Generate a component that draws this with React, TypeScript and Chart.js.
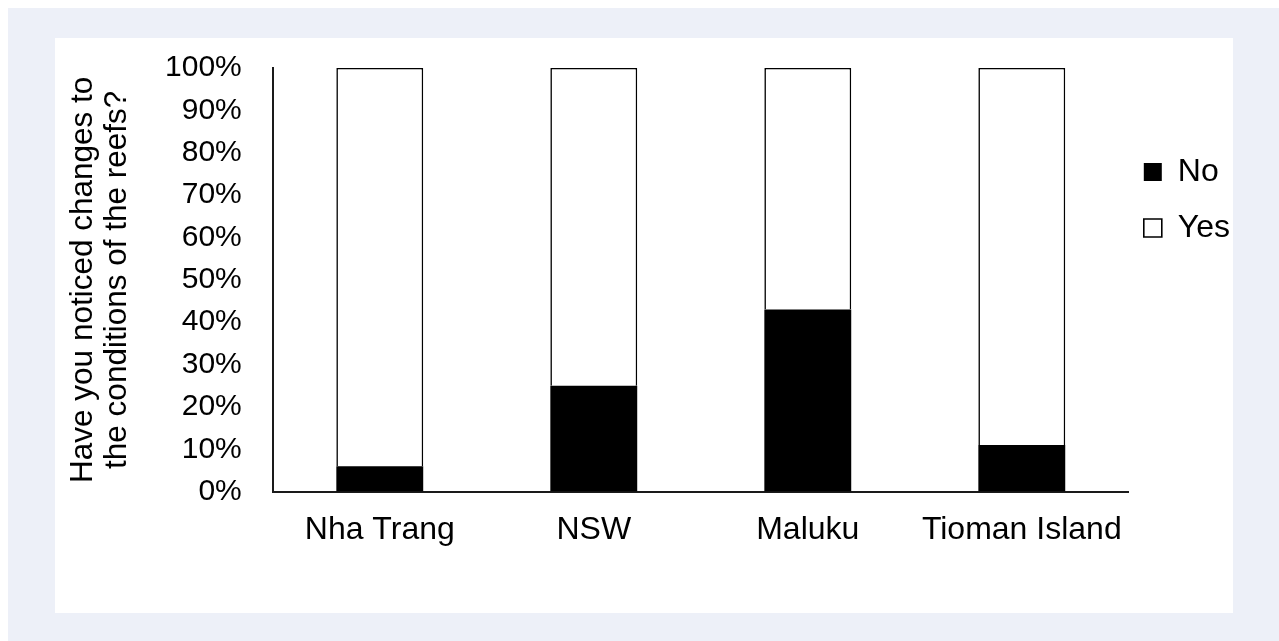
import React, { useEffect, useRef } from "react";
import { Chart, registerables } from "chart.js";

Chart.register(...registerables);

const categories = ["Nha Trang", "NSW", "Maluku", "Tioman Island"];
const noValues = [6, 25, 43, 11];
const yesValues = [94, 75, 57, 89];
const seriesNames = ["No", "Yes"];
const yTitle = ["Have you noticed changes to", "the conditions of the reefs?"];

const FONT = '"Liberation Sans", Arial, sans-serif';

export default function App() {
  const ref = useRef<HTMLCanvasElement | null>(null);

  useEffect(() => {
    if (!ref.current) return;
    const chart = new Chart(ref.current, {
      type: "bar",
      data: {
        labels: categories,
        datasets: [
          {
            label: seriesNames[0],
            data: noValues,
            backgroundColor: "#000000",
            borderColor: "#000000",
            borderWidth: 0,
            categoryPercentage: 1,
            barPercentage: 0.406,
          },
          {
            label: seriesNames[1],
            data: yesValues,
            backgroundColor: "#ffffff",
            borderColor: "#000000",
            borderWidth: 1.6,
            categoryPercentage: 1,
            barPercentage: 0.406,
          },
        ],
      },
      options: {
        responsive: false,
        animation: false,
        layout: { padding: { left: 11, top: 12, right: 15, bottom: 26 } },
        plugins: {
          tooltip: { enabled: false },
          legend: {
            position: "right",
            align: "start",
            title: {
              display: true,
              text: "",
              font: { size: 10, lineHeight: 1 },
              padding: { top: 100, bottom: 0 },
            },
            labels: {
              boxWidth: 18,
              boxHeight: 18,
              padding: 15,
              color: "#000000",
              font: { family: FONT, size: 32, lineHeight: 1.28 },
              generateLabels: (c: any) => {
                const items = (Chart as any).defaults.plugins.legend.labels.generateLabels(c);
                return items.map((it: any) => ({ ...it, text: [it.text] }));
              },
            },
          },
        },
        scales: {
          x: {
            stacked: true,
            grid: { display: false, drawTicks: false },
            border: { display: true, color: "#1a1a1a", width: 2 },
            ticks: {
              color: "#000000",
              padding: 19,
              font: { family: FONT, size: 32 },
              maxRotation: 0,
              autoSkip: false,
            },
          },
          y: {
            stacked: true,
            min: 0,
            max: 100,
            grid: { display: false, drawTicks: false },
            border: { display: true, color: "#1a1a1a", width: 2 },
            ticks: {
              stepSize: 10,
              autoSkip: false,
              color: "#000000",
              padding: 31,
              font: { family: FONT, size: 30 },
              callback: (v: any) => v + "%",
            },
            title: {
              display: true,
              text: yTitle,
              color: "#000000",
              font: { family: FONT, size: 31.5, lineHeight: 1.08 },
              padding: { top: 0, bottom: 0 },
            },
          },
        },
      },
    });
    return () => chart.destroy();
  }, []);

  return (
    <div
      style={{
        position: "fixed",
        left: 8,
        top: 8,
        right: 0,
        bottom: 0,
        background: "#edf0f8",
        overflow: "hidden",
      }}
    >
      <div
        style={{
          position: "absolute",
          left: 47,
          top: 30,
          width: 1178,
          height: 575,
          background: "#ffffff",
        }}
      >
        <canvas
          ref={ref}
          width={1200}
          height={575}
          style={{ position: "absolute", left: 0, top: -19, width: 1200, height: 575 }}
        />
      </div>
    </div>
  );
}
